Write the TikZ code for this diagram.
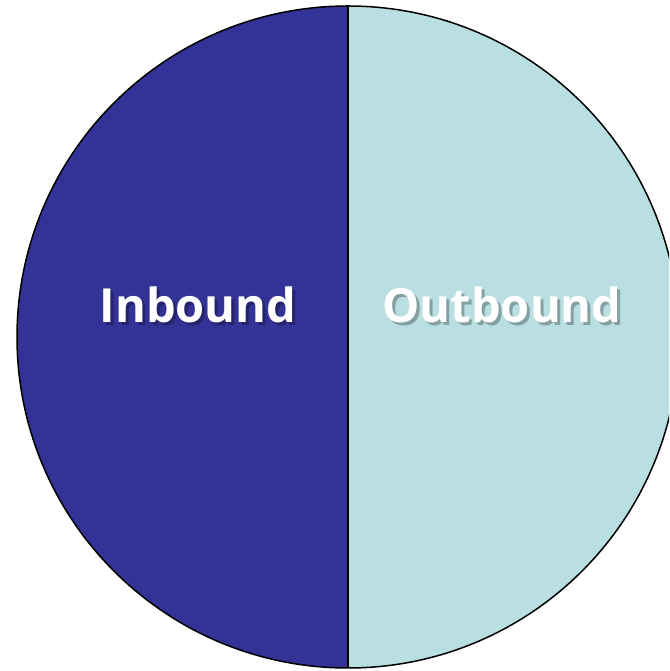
\documentclass[tikz,border=0pt]{standalone}
\usepackage{fontspec}
\setmainfont{Open Sans}
\definecolor{inblue}{RGB}{51,51,151}
\definecolor{outcyan}{RGB}{185,223,227}
\tikzset{
  lbl/.style={font=\bfseries\fontsize{47}{56}\selectfont, text=white, inner sep=0pt, anchor=base},
  lblshadow/.style={lbl, text=black, text opacity=0.28}
}
\begin{document}
\begin{tikzpicture}[x=1pt,y=1pt]
\useasboundingbox (0,0) rectangle (669,671);
\clip (0,0) rectangle (669,671);
\node[circle, minimum size=662pt, inner sep=0pt] (pie) at (348,334) {};
\fill[inblue] (pie.north) arc[start angle=90, end angle=270, radius=331] -- cycle;
\fill[outcyan] (pie.south) arc[start angle=-90, end angle=90, radius=331] -- cycle;
\draw[line width=1.5pt] (pie.center) circle[radius=331];
\draw[line width=1.5pt] (pie.north) -- (pie.south);
\node[lblshadow] (inshadow) at (201,345) {Inbound};
\node[lblshadow] (outshadow) at (505,345) {Outbound};
\node[lbl] (inbound) at (198,348) {Inbound};
\node[lbl] (outbound) at (502,348) {Outbound};
\end{tikzpicture}
\end{document}
